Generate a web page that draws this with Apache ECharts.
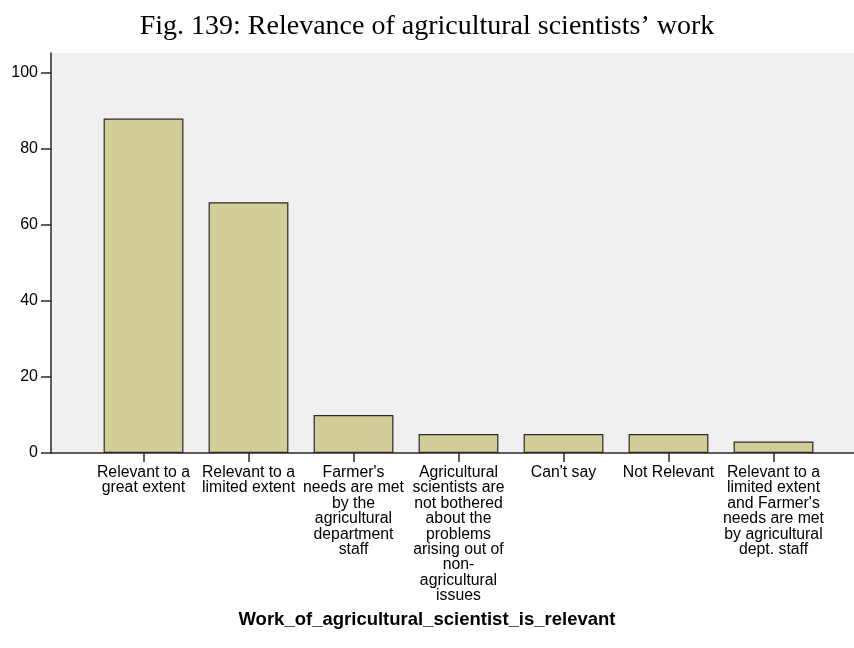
<!DOCTYPE html>
<html>
<head>
<meta charset="utf-8">
<script src="https://cdn.jsdelivr.net/npm/echarts@6/dist/echarts.min.js"></script>
<style>
  html, body { margin: 0; padding: 0; background: #ffffff; }
  #chart { width: 854px; height: 648px; }
</style>
</head>
<body>
<div id="chart"></div>
<script>
// Response categories (line breaks as printed under each bar)
const categories = [
  "Relevant to a\ngreat extent",
  "Relevant to a\nlimited extent",
  "Farmer's\nneeds are met\nby the\nagricultural\ndepartment\nstaff",
  "Agricultural\nscientists are\nnot bothered\nabout the\nproblems\narising out of\nnon-\nagricultural\nissues",
  "Can't say",
  "Not Relevant",
  "Relevant to a\nlimited extent\nand Farmer's\nneeds are met\nby agricultural\ndept. staff"
];

// Number of respondents per category
const counts = [88, 66, 10, 5, 5, 5, 3];

// Value axis scale
const yMin = 0;
const yMax = 100;
const yStep = 20;

const titleText = "Fig. 139: Relevance of agricultural scientists\u2019 work";
const xAxisTitle = "Work_of_agricultural_scientist_is_relevant";

const axisColor = "#2a2a2a";
const sans = "'Liberation Sans', Arial, sans-serif";

const chart = echarts.init(document.getElementById("chart"), null, { renderer: "canvas" });

chart.setOption({
  animation: false,
  backgroundColor: "#ffffff",
  title: {
    text: titleText,
    left: "center",
    top: 8,
    textStyle: {
      fontFamily: "'Liberation Serif', 'Times New Roman', serif",
      fontSize: 28,
      fontWeight: "normal",
      color: "#000000"
    }
  },
  graphic: [{
    type: "text",
    left: "center",
    top: 610,
    style: {
      text: xAxisTitle,
      font: "bold 18.5px " + sans,
      fill: "#000000"
    }
  }],
  grid: [
    // outer plotting frame with the grey background and axis lines
    { left: 51, right: 0, top: 53, bottom: 195, show: true, backgroundColor: "#f0f0f0", borderWidth: 0 },
    // inner region holding the category bands
    { left: 91, right: 28, top: 73, bottom: 195 }
  ],
  xAxis: [
    {
      gridIndex: 0, type: "value", min: 0, max: 1,
      axisLine: { show: true, onZero: false, lineStyle: { color: axisColor, width: 1.5 } },
      axisTick: { show: false }, axisLabel: { show: false }, splitLine: { show: false }
    },
    {
      gridIndex: 1, type: "category", data: categories,
      axisLine: { show: false },
      axisTick: { show: true, alignWithLabel: true, length: 9, lineStyle: { color: axisColor, width: 1.5 } },
      axisLabel: {
        interval: 0, margin: 12,
        fontFamily: sans, fontSize: 15.8, lineHeight: 15.4, color: "#000000", align: "center"
      },
      splitLine: { show: false }
    }
  ],
  yAxis: [
    {
      gridIndex: 0, type: "value", min: 0, max: 1,
      axisLine: { show: true, lineStyle: { color: axisColor, width: 1.5 } },
      axisTick: { show: false }, axisLabel: { show: false }, splitLine: { show: false }
    },
    {
      gridIndex: 1, type: "value", min: yMin, max: yMax, interval: yStep,
      offset: 40,
      axisLine: { show: false },
      axisTick: { show: true, length: 10, lineStyle: { color: axisColor, width: 1.5 } },
      axisLabel: { margin: 13, fontFamily: sans, fontSize: 16, color: "#000000" },
      splitLine: { show: false }
    }
  ],
  series: [{
    type: "bar",
    xAxisIndex: 1,
    yAxisIndex: 1,
    data: counts,
    barWidth: "76%",
    itemStyle: { color: "#d3ce97", borderColor: "#2a2a2a", borderWidth: 1.2 }
  }]
});
</script>
</body>
</html>
